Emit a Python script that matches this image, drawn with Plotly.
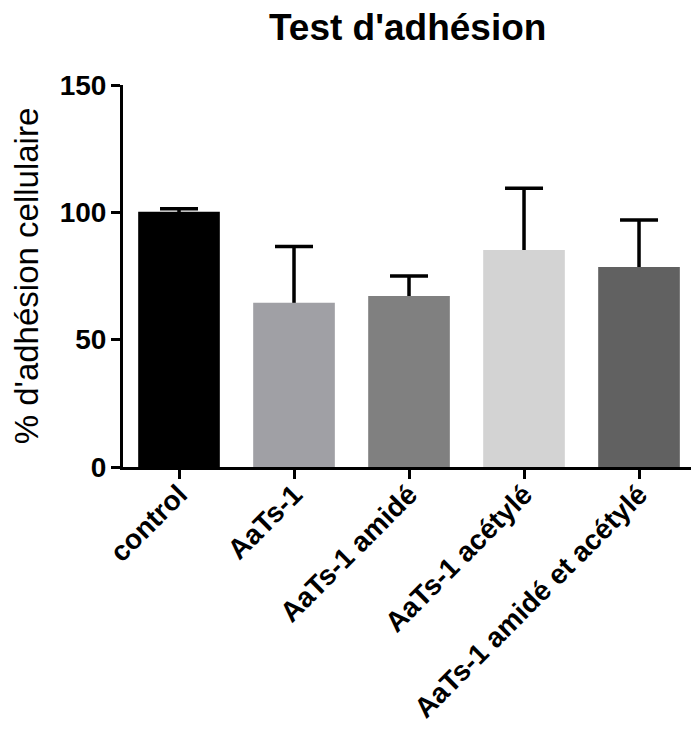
import plotly.graph_objects as go

categories = ["control", "AaTs-1", "AaTs-1 amidé", "AaTs-1 acétylé", "AaTs-1 amidé et acétylé"]
values = [100.2, 64.5, 67.1, 85.2, 78.5]
errors = [1.2, 22.1, 7.9, 24.3, 18.5]
colors = ["#000000", "#a0a0a5", "#808080", "#d3d3d3", "#616161"]
y_ticks = [0, 50, 100, 150]

FONT = "Liberation Sans, Arial, sans-serif"

fig = go.Figure()
# error bars drawn first (behind the bars), GraphPad style
fig.add_trace(go.Bar(
    x=categories, y=values,
    marker=dict(color="rgba(0,0,0,0)", line=dict(width=0)),
    error_y=dict(type="data", array=errors, symmetric=True,
                 color="black", thickness=3.5, width=19),
    showlegend=False, hoverinfo="skip",
))
fig.add_trace(go.Bar(
    x=categories, y=values,
    marker=dict(color=colors, line=dict(width=0)),
    showlegend=False,
))

fig.update_layout(
    width=691, height=733,
    barmode="overlay", bargap=0.29,
    margin=dict(l=123, r=0, t=85, b=266),
    plot_bgcolor="white", paper_bgcolor="white",
    font=dict(family=FONT, color="black"),
    title=dict(text="<b>Test d'adhésion</b>", font=dict(size=37, family=FONT, color="black"),
               x=0.59, xanchor="center", xref="container",
               y=0.963, yanchor="middle", yref="container"),
    xaxis=dict(
        range=[-0.487, 4.452],
        showline=True, linecolor="black", linewidth=3,
        ticks="outside", ticklen=9, tickwidth=2.5, tickcolor="black",
        tickangle=-45, showgrid=False, zeroline=False, ticklabelstandoff=-12,
        tickfont=dict(size=28, family=FONT, color="black", weight="bold"),
    ),
    yaxis=dict(
        range=[0, 150], tickvals=y_ticks,
        showline=True, linecolor="black", linewidth=3,
        ticks="outside", ticklen=9, tickwidth=2.5, tickcolor="black",
        showgrid=False, zeroline=False, ticklabelstandoff=-1,
        tickfont=dict(size=28, family=FONT, color="black", weight="bold"),
        title=dict(text="% d'adhésion cellulaire", font=dict(size=33, family=FONT, color="black"),
                   standoff=12),
    ),
)

fig.write_html(
    "out.html",
    config={"displayModeBar": False},
    post_script="document.body.style.margin='0';document.body.style.overflow='hidden';",
)
